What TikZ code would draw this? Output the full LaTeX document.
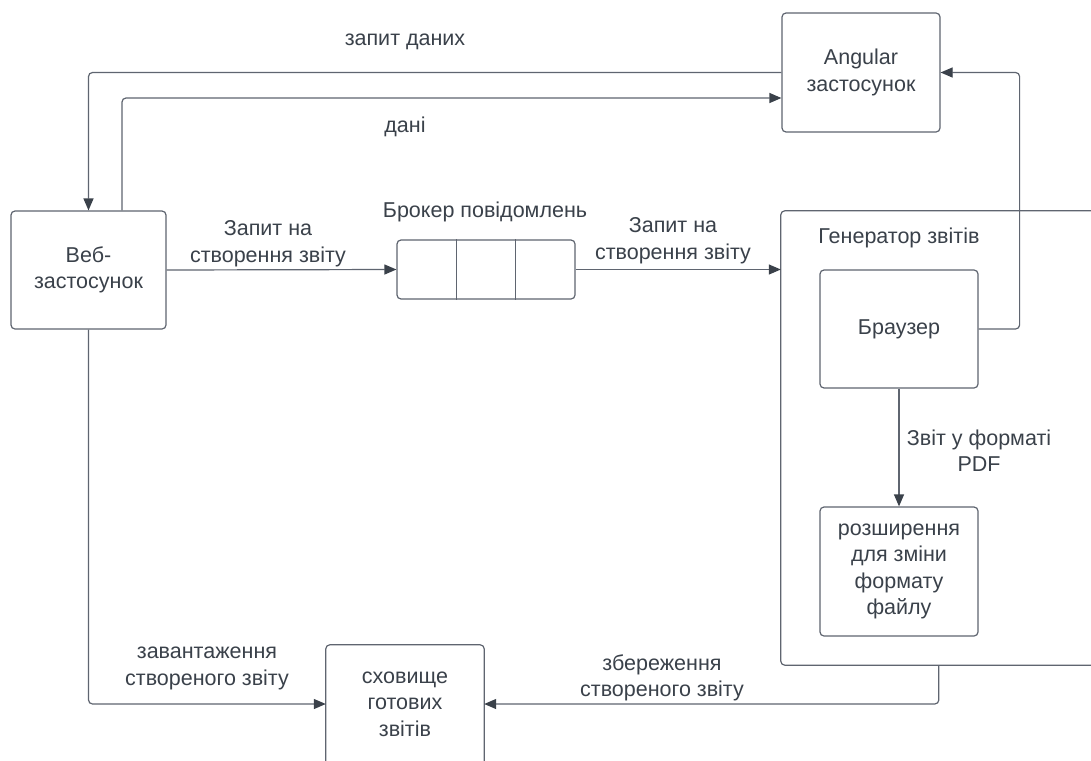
\documentclass[tikz,border=0pt]{standalone}
\usepackage{fontspec}
\setmainfont{Liberation Sans}
\usetikzlibrary{arrows.meta,calc}
\definecolor{ln}{HTML}{5F6570}
\definecolor{tx}{HTML}{3A414A}
\definecolor{ah}{HTML}{3A414A}
\newcommand\dfont{\fontsize{21.5}{26.5}\selectfont}
\begin{document}
\begin{tikzpicture}[x=1pt,y=-1pt,
 box/.style={draw=ln, line width=1.2pt, rounded corners=4pt, align=center, text=tx, font=\dfont, inner sep=0pt},
 plain/.style={draw=none, align=center, text=tx, font=\dfont, inner sep=0pt},
 lbl/.style={align=center, text=tx, font=\dfont, inner sep=0pt},
 outline/.style={draw=ln, line width=1.2pt, rounded corners=4pt},
 conn/.style={draw=ln, line width=1.2pt, rounded corners=4pt, -{Triangle[length=12pt,width=10pt,color=ah]}},
]
\useasboundingbox[fill=white] (0,0) rectangle (1091,760);

% nodes
\node[box, minimum width=155pt, minimum height=118pt] (web) at (88.5,270) {Веб-\\застосунок};
\node[box, minimum width=158pt, minimum height=119pt] (ang) at (861,72.5) {Angular\\застосунок};
\node[box, minimum width=178pt, minimum height=59pt] (queue) at (486,269.5) {};
\node[plain, minimum width=330pt, minimum height=454pt] (gen) at (946,438) {};
\node[box, minimum width=158pt, minimum height=118pt] (brow) at (899,329) {Браузер};
\node[box, minimum width=158pt, minimum height=129pt] (ext) at (899,571.5) {розширення\\для зміни\\формату\\файлу};
\node[plain, minimum width=158pt, minimum height=125pt] (store) at (405,707.5) {};
\node[lbl] (storet) at (405,704) {сховище\\готових\\звітів};

% open outlines
\draw[outline] (gen.north east) -- (gen.north west) -- (gen.south west) -- (gen.south east);
\draw[outline] (store.south west) -- (store.north west) -- (store.north east) -- (store.south east);
\draw[ln, line width=1.2pt] ($(queue.north west)!1/3!(queue.north east)$) -- ($(queue.south west)!1/3!(queue.south east)$);
\draw[ln, line width=1.2pt] ($(queue.north west)!2/3!(queue.north east)$) -- ($(queue.south west)!2/3!(queue.south east)$);

% titles
\node[lbl] (brokert) at (485,212) {Брокер повідомлень};
\node[lbl] (gent) at (899,238) {Генератор звітів};

% connectors
\draw[conn] (ang.west) -| (web.north);
\draw[conn] ([xshift=33.5pt]web.north) |- ([yshift=-25.5pt]ang.west);
\draw[conn] (web.east) -- (queue.west);
\draw[conn] (queue.east) -- (queue.east -| gen.west);
\draw[conn] (brow.east) -- ++(41,0) |- (ang.east);
\draw[conn] (brow.south) -- (ext.north);
\draw[conn] ([xshift=158pt]gen.south west) |- (storet.east -| store.east);
\draw[conn] (web.south) |- (storet.west -| store.west);

% labels
\node[lbl] (l1) at (405,42) {запит даних};
\node[lbl] (l2) at (405,127) {дані};
\node[lbl] (l3) at (268,243.5) {Запит на\\створення звіту};
\node[lbl] (l4) at (673,240.5) {Запит на\\створення звіту};
\node[lbl] (l5) at (979,450.5) {Звіт у форматі\\PDF};
\node[lbl] (l6) at (207,668.5) {завантаження\\створеного звіту};
\node[lbl] (l7) at (662,678) {збереження\\створеного звіту};
\end{tikzpicture}
\end{document}
